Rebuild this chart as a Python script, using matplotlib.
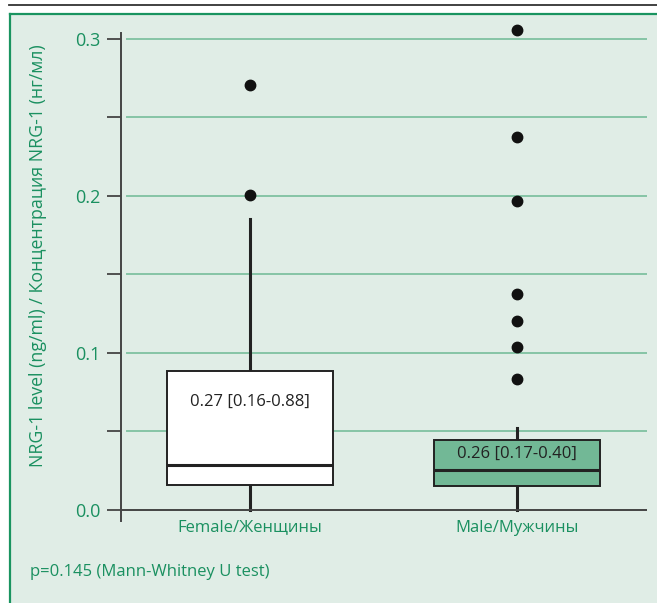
import numpy as np
import matplotlib
matplotlib.use('Agg')
from matplotlib import pyplot as plt
from matplotlib.patches import Rectangle
from matplotlib.lines import Line2D

plt.rcParams['font.family'] = ['Open Sans', 'DejaVu Sans']

groups = ['Female/Женщины', 'Male/Мужчины']
box_notes = ['0.27 [0.16-0.88]', '0.26 [0.17-0.40]']
q1 = [0.0159, 0.0153]
medians = [0.0287, 0.0255]
q3 = [0.0885, 0.0442]
whisker_low = [0.0, 0.0]
whisker_high = [0.1855, 0.0522]
outliers = [
    [0.2006, 0.2705],
    [0.0834, 0.1038, 0.1204, 0.1376, 0.1968, 0.2376, 0.3057],
]
yticks = [0.0, 0.05, 0.1, 0.15, 0.2, 0.25, 0.3]
ytick_labels = ['0.0', '', '0.1', '', '0.2', '', '0.3']
ylabel = 'NRG-1 level (ng/ml) / Концентрация NRG-1 (нг/мл)'
pvalue_note = 'p=0.145 (Mann-Whitney U test)'

green_text = '#1a9060'
panel_bg = '#e0ede6'
grid_col = '#86c4a6'
male_fill = '#72b896'
dark = '#222222'

W, H = 657, 603
fig = plt.figure(figsize=(W / 100, H / 100), dpi=100)

# panel background and frame
fig.patches.append(Rectangle((10 / W, 0), 1, 1 - 14 / H, transform=fig.transFigure,
                             facecolor=panel_bg, edgecolor='none', zorder=-5))
fig.lines.append(Line2D([10 / W, 10 / W], [0, 1 - 14 / H], transform=fig.transFigure,
                        color='#1a9460', lw=1.6, zorder=-4))
fig.lines.append(Line2D([10 / W, 1], [1 - 14 / H, 1 - 14 / H], transform=fig.transFigure,
                        color='#1a9460', lw=1.6, zorder=-4))
fig.lines.append(Line2D([9 / W, 1], [1 - 5 / H, 1 - 5 / H], transform=fig.transFigure,
                        color='#333333', lw=1.3, zorder=-4))

# axes: y-axis spine from y=33 to y=521 px, x from 121 to 647 px
ax = fig.add_axes([121 / W, 1 - 521 / H, (647 - 121) / W, (521 - 33) / H])
ax.set_facecolor('none')
ax.set_zorder(1)

stats = []
for i in range(len(groups)):
    stats.append(dict(med=medians[i], q1=q1[i], q3=q3[i],
                      whislo=whisker_low[i], whishi=whisker_high[i],
                      fliers=outliers[i], label=groups[i]))

bp = ax.bxp(stats, positions=[1, 2], widths=0.62, patch_artist=True,
            showcaps=False,
            boxprops=dict(edgecolor=dark, linewidth=1.4),
            medianprops=dict(color=dark, linewidth=2.2),
            whiskerprops=dict(color=dark, linewidth=2.2),
            flierprops=dict(marker='o', markerfacecolor='#111111',
                            markeredgecolor='#111111', markersize=7.5))
bp['boxes'][0].set_facecolor('white')
bp['boxes'][1].set_facecolor(male_fill)
for b in bp['boxes']:
    b.set_zorder(3)
for m in bp['medians']:
    m.set_zorder(4)
for f in bp['fliers']:
    f.set_zorder(4)
    f.set_clip_on(False)

# box annotations
ax.text(1, 0.0685, box_notes[0], ha='center', va='center', fontsize=12,
        color=dark, zorder=5)
ax.text(2, 0.0360, box_notes[1], ha='center', va='center', fontsize=12,
        color=dark, zorder=5)

# gridlines (start a little right of the y-axis)
for yv in yticks[1:]:
    ax.axhline(yv, xmin=6 / 526, xmax=1, color=grid_col, lw=1.4, zorder=1)
ax.axhline(0, xmin=0, xmax=1, color='#444444', lw=1.4, zorder=2)

ax.set_xlim(0.517, 2.487)
ax.set_ylim(-0.0071, 0.3038)
ax.set_yticks(yticks)
ax.set_yticklabels(ytick_labels)
ax.set_xticks([1, 2])
ax.set_xticklabels(groups)
ax.tick_params(axis='y', direction='out', length=10, width=1.3, color='#444444',
               labelcolor=green_text, labelsize=13, pad=5)
ax.tick_params(axis='x', length=0, labelcolor=green_text, labelsize=12, pad=-1)

for side in ['top', 'right', 'bottom']:
    ax.spines[side].set_visible(False)
ax.spines['left'].set_color('#444444')
ax.spines['left'].set_linewidth(1.4)

ax.set_ylabel(ylabel, color=green_text, fontsize=12.8)
ax.yaxis.set_label_coords(-74 / 526, (521 - 256) / 488)

fig.text(30 / W, 1 - 572 / H, pvalue_note, color=green_text, fontsize=12,
         ha='left', va='center')

fig.savefig('out.png', dpi=100)
